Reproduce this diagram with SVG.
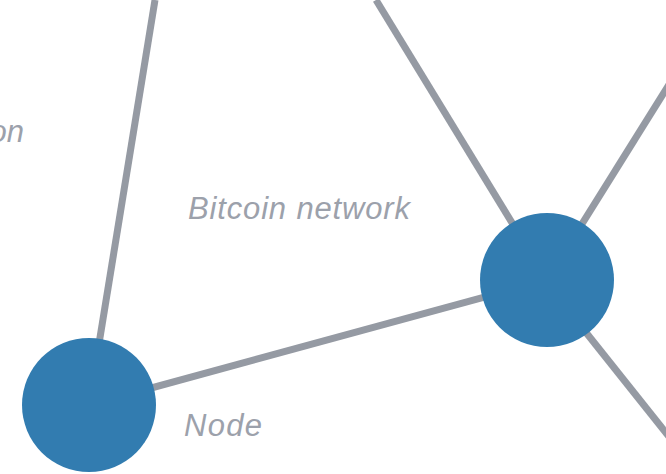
<svg xmlns="http://www.w3.org/2000/svg" width="666" height="474" viewBox="0 0 666 474">
<style>
.edge{stroke:#959aa3;stroke-width:7;stroke-linecap:butt;fill:none}
.node{fill:#327cb0}
.lbl{font-family:"Liberation Sans",Arial,sans-serif;font-style:italic;font-size:31px;fill:#9ca1ab}
</style>
<rect width="666" height="474" fill="#ffffff"/>
<g id="connectors">
<line class="edge" x1="155" y1="0" x2="89" y2="405"/>
<line class="edge" x1="376" y1="0" x2="547" y2="280"/>
<line class="edge" x1="89" y1="405" x2="547" y2="280"/>
<line class="edge" x1="547" y1="280" x2="670" y2="83"/>
<line class="edge" x1="545" y1="281" x2="670" y2="438"/>
</g>
<g id="node-left"><circle class="node" cx="89" cy="405" r="67"/></g>
<g id="node-right"><circle class="node" cx="547" cy="280" r="67"/></g>
<g id="label-on"><text class="lbl" x="24" y="142" text-anchor="end">on</text></g>
<g id="label-network"><text class="lbl" x="188" y="219" textLength="222">Bitcoin network</text></g>
<g id="label-node"><text class="lbl" x="184" y="436" textLength="78">Node</text></g>
</svg>
